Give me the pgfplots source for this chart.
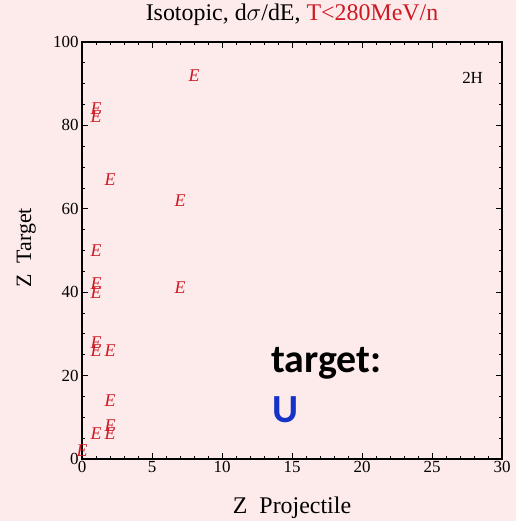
\documentclass[border=0pt]{standalone}
\usepackage{pgfplots}
\pgfplotsset{compat=1.18}
\usepackage{fontspec}
\setmainfont{Liberation Serif}
\newfontfamily\calib{Carlito}
\usetikzlibrary{backgrounds}
\definecolor{bgpink}{RGB}{253,234,234}
\definecolor{ered}{RGB}{205,25,35}
\definecolor{ublue}{RGB}{20,50,200}
\begin{document}
\begin{tikzpicture}[x=1bp,y=1bp,show background rectangle,inner frame sep=0pt,background rectangle/.style={fill=bgpink,draw=none}]
\begin{axis}[
  at={(0,0)}, anchor=south west,
  scale only axis, width=420bp, height=417bp,
  xmin=0, xmax=30, ymin=0, ymax=100,
  xtick={0,5,...,30}, ytick={0,20,...,100},
  minor x tick num=4, minor y tick num=3,
  tick align=inside,
  major tick length=6bp, minor tick length=3bp,
  axis line style={line width=1.4pt},
  every tick/.style={black, line width=0.8pt},
  tick label style={font=\fontsize{17}{20}\selectfont},
  xticklabel style={yshift=1bp},
  /pgf/number format/assume math mode=true,
  xlabel={Z\ \ Projectile}, ylabel={Z\ \ Target},
  xlabel style={font=\fontsize{24}{28}\selectfont, at={(axis description cs:0.5,-0.13)}, anchor=base},
  ylabel style={font=\fontsize{22}{26}\selectfont, at={(axis description cs:-0.1214,0.506)}, anchor=base},
  axis background/.style={fill=bgpink},
  title={Isotopic, d$\sigma$/dE, \textcolor{ered}{T<280MeV/n}},
  title style={font=\fontsize{24}{28}\selectfont, at={(axis description cs:0.5,1.036)}, anchor=base},
]
\addplot[only marks, mark=text, text mark={\textit{E}}, text mark as node=true,
  text mark style={font=\fontsize{18}{20}\selectfont, text=ered}]
coordinates {
(8,92) (1,84) (1,82) (2,67) (7,62) (1,50) (1,42) (1,40) (7,41)
(1,28) (1,26) (2,26) (2,14) (2,8) (2,6) (1,6) (0,2)
};
\node[font=\fontsize{17}{19}\selectfont] at (axis cs:27.9,91.4) {2H};
\end{axis}
\node[anchor=base west, font=\calib\bfseries\fontsize{40}{46}\selectfont, inner sep=0pt] at (189,86) {target:};
\node[anchor=base west, font=\calib\bfseries\fontsize{40}{46}\selectfont, text=ublue, inner sep=0pt] at (190,36) {U};
\pgfresetboundingbox
\path (-82,-62) rectangle (434,459);
\end{tikzpicture}
\end{document}
